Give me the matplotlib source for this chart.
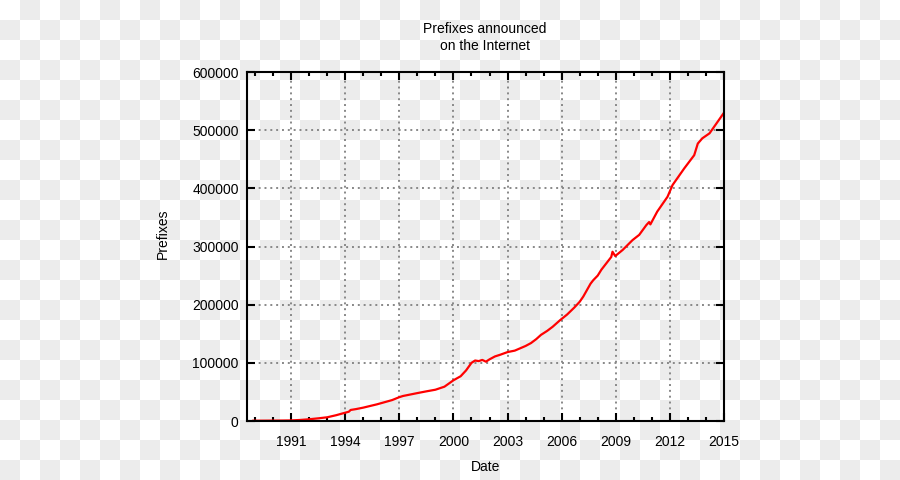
import numpy as np
import matplotlib
matplotlib.use('Agg')
from matplotlib import pyplot as plt
from matplotlib.ticker import MultipleLocator

plt.rcParams['font.family'] = ['Liberation Sans', 'DejaVu Sans']
plt.rcParams['font.size'] = 10

# data (decimal year, prefixes)
dates = [1988.9, 1989.5, 1990.0, 1990.5, 1991.0, 1991.5, 1992.0, 1992.5, 1993.0,
         1993.5, 1994.0, 1994.2, 1994.3, 1994.6, 1995.0, 1995.4, 1995.75, 1996.2,
         1996.6, 1997.0, 1997.2, 1997.6, 1998.0, 1998.5, 1999.0, 1999.5, 2000.0,
         2000.4, 2000.7, 2001.0, 2001.2, 2001.4, 2001.6, 2001.8, 2002.0, 2002.3,
         2002.6, 2003.0, 2003.4, 2003.7, 2004.0, 2004.3, 2004.6, 2004.85, 2005.2,
         2005.5, 2005.9, 2006.3, 2006.7, 2007.0, 2007.2, 2007.4, 2007.6, 2007.75,
         2008.0, 2008.2, 2008.5, 2008.75, 2008.82, 2008.97, 2009.38, 2009.93,
         2010.3, 2010.7, 2010.85, 2010.92, 2011.3, 2011.87, 2012.15, 2012.8,
         2013.35, 2013.55, 2013.8, 2014.2, 2014.65, 2015.0]
prefixes = [500, 600, 700, 800, 1000, 1800, 3000, 4600, 6400,
            10000, 14300, 16000, 19000, 20500, 23000, 26000, 28600, 32500,
            36000, 41000, 43000, 45500, 48000, 51000, 53800, 59000, 70000,
            77000, 87000, 100000, 104000, 103000, 105000, 102000, 106000, 111000,
            114000, 118500, 121000, 125000, 129000, 134000, 141000, 148000, 155000,
            162000, 173000, 183000, 195000, 205000, 214000, 225000, 236000, 242000,
            250000, 260000, 272000, 282000, 291000, 283600, 294000, 311000,
            320000, 337000, 342000, 338000, 360000, 385500, 405700, 434400,
            457000, 477000, 486000, 494600, 514500, 530000]

year_ticks = [1991, 1994, 1997, 2000, 2003, 2006, 2009, 2012, 2015]

fig = plt.figure(figsize=(9, 4.8), dpi=100)

# checkerboard background (transparency pattern), 20px squares
bg_ax = fig.add_axes([0, 0, 1, 1], zorder=-1)
board = (np.add.outer(np.arange(24), np.arange(45)) % 2).astype(float)
bg_ax.imshow(board, cmap='gray_r', vmin=0, vmax=1 / 0.075, interpolation='nearest',
             aspect='auto', extent=(0, 900, 480, 0))
bg_ax.set_axis_off()

ax = fig.add_axes([0.2744, 0.1229, 0.53, 0.7271], zorder=1)
ax.set_facecolor('none')

ax.plot(dates, prefixes, color='#ff0000', lw=1.6, zorder=3)

ax.set_xlim(1988.55, 2015)
ax.set_ylim(0, 600000)
ax.set_xticks(year_ticks)
ax.set_xticklabels([str(y) for y in year_ticks])
ax.xaxis.set_minor_locator(MultipleLocator(1))
ax.set_yticks(np.arange(0, 600001, 100000))
ax.set_yticklabels([str(v) for v in range(0, 600001, 100000)])

ax.tick_params(which='both', direction='in', top=True, right=True, width=1.5, color='black')
ax.tick_params(which='major', length=5.5)
ax.tick_params(which='minor', length=3)
ax.tick_params(axis='y', which='major', pad=6, labelsize=10)
ax.tick_params(axis='x', which='major', pad=10, labelsize=10)

for s in ax.spines.values():
    s.set_linewidth(1.5)
    s.set_zorder(4)

ax.grid(True, which='major', color='#888888', linestyle=(0, (1, 2)), lw=1.4, zorder=1)

fig.text(0.539, 0.922, 'Prefixes announced\non the Internet', ha='center', va='center',
         fontsize=10, linespacing=1.3)
fig.text(0.539, 0.027, 'Date', ha='center', va='center', fontsize=10)
fig.text(0.181, 0.513, 'Prefixes', ha='center', va='center', rotation=90, fontsize=10)

fig.savefig('out.png', dpi=100)
